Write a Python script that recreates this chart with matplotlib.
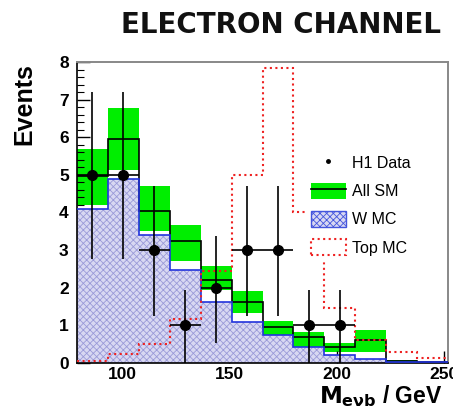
import numpy as np
import matplotlib
matplotlib.use('Agg')
import matplotlib.pyplot as plt
from matplotlib.patches import Patch
from matplotlib.lines import Line2D
from matplotlib.ticker import MultipleLocator

# bin edges in M_evb (GeV), 12 bins
edges = np.linspace(79.0, 251.8, 13)

# SM expectation: total and its error band
all_sm = [4.97, 5.96, 4.03, 3.24, 2.21, 1.62, 0.95, 0.70, 0.41, 0.61, 0.05, 0.02]
sm_lo = [4.21, 5.13, 3.50, 2.70, 1.95, 1.32, 0.70, 0.43, 0.30, 0.30, 0.02, 0.01]
sm_hi = [5.68, 6.79, 4.70, 3.66, 2.57, 1.90, 1.10, 0.83, 0.52, 0.88, 0.08, 0.03]
w_mc = [4.08, 4.88, 3.41, 2.48, 1.62, 1.08, 0.75, 0.41, 0.21, 0.10, 0.03, 0.01]
top_mc = [0.04, 0.24, 0.51, 1.16, 2.44, 4.99, 7.84, 4.00, 1.46, 0.61, 0.30, 0.12]

# H1 data (first 9 bins)
data = [5, 5, 3, 1, 2, 3, 3, 1, 1]
err_lo = [2.25, 2.25, 1.76, 1.0, 1.47, 1.76, 1.76, 1.0, 1.0]
err_hi = [2.2, 2.2, 1.7, 0.95, 1.37, 1.7, 1.7, 0.95, 0.95]

centers = 0.5 * (edges[:-1] + edges[1:])
half = 0.5 * (edges[1] - edges[0])

plt.rcParams['font.family'] = ['Liberation Sans', 'DejaVu Sans']
plt.rcParams['hatch.linewidth'] = 0.6

fig = plt.figure(figsize=(4.53, 4.19), dpi=100)
ax = fig.add_axes([0.170, 0.134, 0.819, 0.718])

# green band for total SM
ax.stairs(sm_hi, edges, baseline=sm_lo, fill=True, color='#00ee00', lw=0, zorder=1)
ax.stairs(all_sm, edges, baseline=None, color='black', lw=1.2, zorder=3)

# W MC hatched
ax.stairs(w_mc, edges, baseline=0, fill=True, facecolor='#d8d8f2',
          edgecolor='#9a9ad8', hatch='xxxxx', lw=0, zorder=2)
ax.stairs(w_mc, edges, baseline=None, color='#2233dd', lw=1.2, zorder=3)

# Top MC dotted
ax.stairs(top_mc, edges, baseline=None, color='#ee2222', lw=1.5, ls=':', zorder=4)

# data
ax.errorbar(centers[:len(data)], data, yerr=[err_lo, err_hi], xerr=half,
            fmt='o', color='black', ms=7, elinewidth=1.2, capsize=0, zorder=5)

ax.set_xlim(edges[0], edges[-1])
ax.set_ylim(0, 8)
ax.set_xticks([100, 150, 200, 250])
ax.set_yticks(range(0, 9))
ax.yaxis.set_minor_locator(MultipleLocator(0.2))
ax.tick_params(axis='both', which='major', direction='in', length=9, width=1,
               labelsize=12.5)
ax.tick_params(axis='y', which='minor', direction='in', length=5, width=0.8)
for lab in ax.get_xticklabels() + ax.get_yticklabels():
    lab.set_fontweight('bold')
ax.tick_params(axis='x', pad=3)
ax.tick_params(axis='y', pad=6)
for s in ['top', 'right']:
    ax.spines[s].set_color('#888888')
    ax.spines[s].set_linewidth(1.4)
ax.spines['left'].set_linewidth(1.2)
ax.spines['bottom'].set_linewidth(1.2)

handles = [
    Line2D([], [], marker='o', color='black', ls='none', ms=2.5),
    (Patch(facecolor='#00ee00', lw=0), Line2D([], [], color='black', lw=1.2)),
    Patch(facecolor='#d8d8f2', edgecolor='#4455dd', hatch='xxxxx', lw=1),
    Patch(facecolor='white', edgecolor='#ee2222', ls=':', lw=1.5),
]
labels = ['H1 Data', 'All SM', 'W MC', 'Top MC']
leg = ax.legend(handles, labels, loc='upper left', bbox_to_anchor=(0.596, 0.735),
                frameon=True, fancybox=False, framealpha=1, edgecolor='white',
                fontsize=11.5, handlelength=2.2, handleheight=1.15,
                labelspacing=0.75, borderpad=0.3, handletextpad=0.4)
leg.set_zorder(10)

fig.text(0.621, 0.94, 'ELECTRON CHANNEL', ha='center', va='center',
         fontsize=20, fontweight='bold', family='DejaVu Sans', color='#111111')
fig.text(0.053, 0.752, 'Events', rotation=90, ha='center', va='center',
         fontsize=18, fontweight='bold')
fig.text(0.978, 0.055, r'$\mathbf{M_{e\nu b}}$ / GeV', ha='right', va='center',
         fontsize=16.5, fontweight='bold')

fig.savefig('out.png', dpi=100)
